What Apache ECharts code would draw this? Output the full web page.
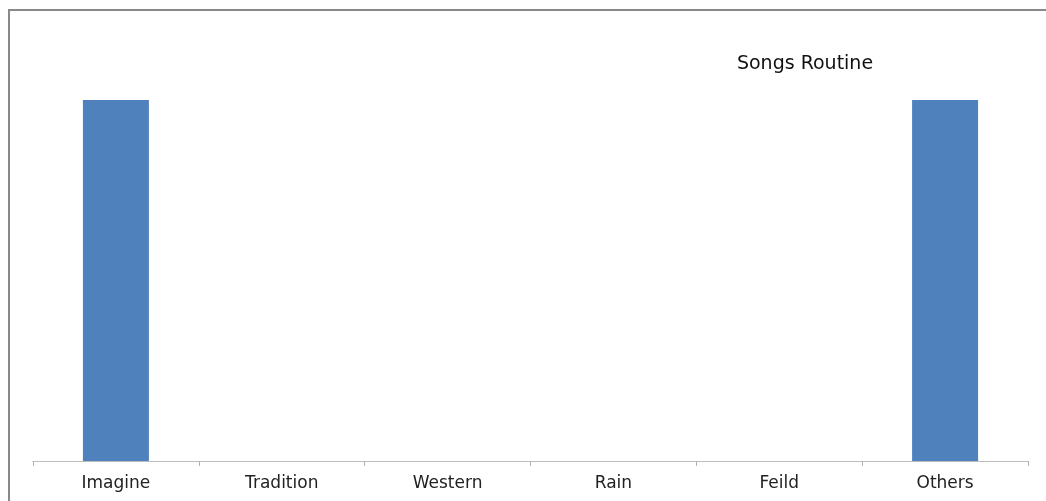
<!DOCTYPE html>
<html>
<head>
<meta charset="utf-8">
<script src="https://cdn.jsdelivr.net/npm/echarts@6/dist/echarts.min.js"></script>
<style>
html,body{margin:0;padding:0;background:#fff;}
#chart{width:1046px;height:501px;}
</style>
</head>
<body>
<div id="chart"></div>
<script>
var categories = ['Imagine', 'Tradition', 'Western', 'Rain', 'Feild', 'Others'];
var songsRoutine = [1, 0, 0, 0, 0, 1];
var titleText = 'Songs Routine';

var chart = echarts.init(document.getElementById('chart'), null, {renderer: 'canvas'});
chart.setOption({
  animation: false,
  backgroundColor: '#ffffff',
  title: {
    text: titleText,
    left: 800,
    top: 50,
    textAlign: 'center',
    textStyle: {fontFamily: 'DejaVu Sans', fontSize: 19, fontWeight: 'normal', color: '#111'}
  },
  grid: {left: 33, right: 18, top: 100, bottom: 40, containLabel: false},
  xAxis: {
    type: 'category',
    data: categories,
    axisLine: {lineStyle: {color: '#bdbdbd', width: 1}},
    axisTick: {show: true, length: 5, lineStyle: {color: '#b0b0b0'}},
    axisLabel: {fontFamily: 'DejaVu Sans', fontSize: 17, color: '#222', margin: 14}
  },
  yAxis: {
    type: 'value', min: 0, max: 1, show: false,
    splitLine: {show: false}
  },
  series: [{
    name: titleText,
    type: 'bar',
    data: songsRoutine,
    barWidth: 66,
    itemStyle: {color: '#4f81bd'}
  }],
  graphic: [
    {type: 'line', shape: {x1: 9, y1: 10, x2: 1046, y2: 10}, style: {stroke: '#888', lineWidth: 2}},
    {type: 'line', shape: {x1: 9, y1: 9, x2: 9, y2: 501}, style: {stroke: '#888', lineWidth: 2}}
  ]
});
</script>
</body>
</html>
